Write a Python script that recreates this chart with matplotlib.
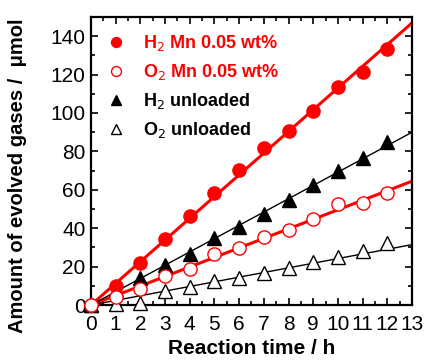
import matplotlib
matplotlib.use("Agg")
import matplotlib.pyplot as plt
import numpy as np
from matplotlib.ticker import MultipleLocator

plt.rcParams['font.family'] = ['Liberation Sans', 'DejaVu Sans']

hours = [0, 1, 2, 3, 4, 5, 6, 7, 8, 9, 10, 11, 12]
h2_mn = [0, 10.0, 21.8, 34.6, 46.2, 58.4, 70.5, 81.6, 90.7, 100.8, 113.6, 121.6, 133.4]
o2_mn = [0, 4.0, 8.3, 14.9, 19.0, 26.4, 29.5, 35.4, 39.0, 44.9, 52.4, 53.2, 58.4]
h2_unl = [0, 8.0, 14.3, 20.9, 26.8, 35.1, 40.6, 47.5, 54.6, 62.7, 69.6, 76.4, 84.7]
o2_unl = [0, 0.5, 1.0, 7.1, 9.5, 12.3, 14.0, 16.9, 19.4, 22.5, 25.1, 28.2, 32.1]

# slopes of the linear fits (umol/h)
fit_slopes = {'h2_mn': 11.3, 'o2_mn': 4.96, 'h2_unl': 6.92, 'o2_unl': 2.42}
fit_x = [0, 13]

fig = plt.figure(figsize=(4.26, 3.61), dpi=100)
ax = fig.add_axes([0.2136, 0.155, 0.7535, 0.798])

fx = np.array(fit_x, dtype=float)
ax.plot(fx, fit_slopes['h2_mn'] * fx, color='red', lw=2.2, zorder=2)
ax.plot(fx, fit_slopes['o2_mn'] * fx, color='red', lw=2.2, zorder=2)
ax.plot(fx, fit_slopes['h2_unl'] * fx, color='black', lw=1.0, zorder=2)
ax.plot(fx, fit_slopes['o2_unl'] * fx, color='black', lw=1.0, zorder=2)

ax.plot(hours, o2_unl, ls='none', marker='^', ms=10, mfc='white', mec='black', mew=1.0,
        label='O$_2$ unloaded', zorder=3, clip_on=False)
ax.plot(hours, h2_unl, ls='none', marker='^', ms=10, mfc='black', mec='black',
        label='H$_2$ unloaded', zorder=3, clip_on=False)
ax.plot(hours, h2_mn, ls='none', marker='o', ms=9.5, mfc='red', mec='red',
        label='H$_2$ Mn 0.05 wt%', zorder=4, clip_on=False)
ax.plot(hours, o2_mn, ls='none', marker='o', ms=9.5, mfc='white', mec='red', mew=1.0,
        label='O$_2$ Mn 0.05 wt%', zorder=5, clip_on=False)

ax.set_xlim(0, 13)
ax.set_ylim(0, 150)
ax.xaxis.set_major_locator(MultipleLocator(1))
ax.xaxis.set_minor_locator(MultipleLocator(0.5))
ax.yaxis.set_major_locator(MultipleLocator(20))
ax.yaxis.set_minor_locator(MultipleLocator(10))
ax.set_yticks(np.arange(0, 141, 20))
ax.tick_params(which='both', direction='in', top=True, right=True, width=1.2)
ax.tick_params(which='major', length=5, labelsize=15)
ax.tick_params(axis='x', which='major', pad=7)
ax.tick_params(axis='y', which='major', pad=4)
ax.tick_params(which='minor', length=3)
for s in ax.spines.values():
    s.set_linewidth(1.6)

ax.set_xlabel('Reaction time / h', fontsize=15, fontweight='bold', labelpad=4)
fig.text(18 / 426, 1 - 176 / 361, 'Amount of evolved gases /  \u03bcmol', fontsize=14.5,
         fontweight='bold', rotation=90, ha='center', va='center')

handles, labels = ax.get_legend_handles_labels()
order = [2, 3, 1, 0]
leg = ax.legend([handles[i] for i in order], [labels[i] for i in order],
                loc='upper left', frameon=False, prop={'size': 13, 'weight': 'bold'},
                markerscale=0.75, handlelength=1.0, handletextpad=1.0,
                labelspacing=0.5, borderaxespad=0.5, numpoints=1)
for t, c in zip(leg.get_texts(), ['red', 'red', 'black', 'black']):
    t.set_color(c)

fig.savefig('out.png', dpi=100)
